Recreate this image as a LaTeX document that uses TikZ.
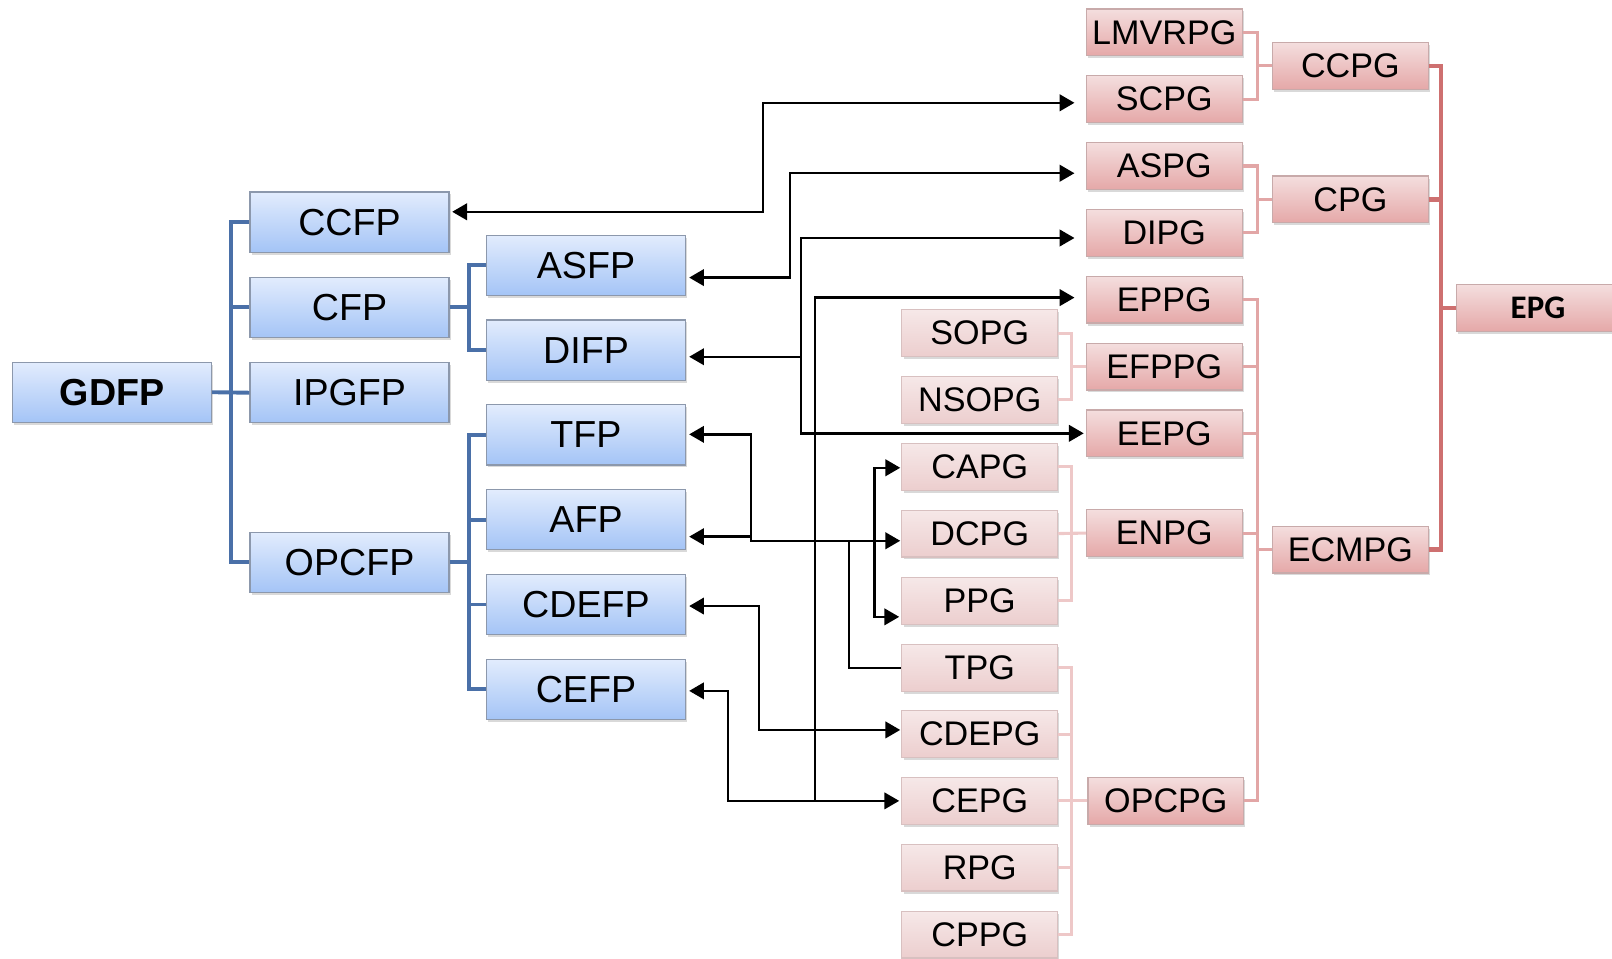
\documentclass[tikz,border=0pt]{standalone}
\usepackage{fontspec}
\setmainfont{Liberation Sans}
\newfontfamily\calib{Carlito}
\usetikzlibrary{calc,shadows,arrows.meta}
\definecolor{bltop}{RGB}{226,236,253}
\definecolor{blbot}{RGB}{164,196,246}
\definecolor{blbrd}{RGB}{140,152,172}
\definecolor{blline}{RGB}{74,112,168}
\definecolor{pAtop}{RGB}{246,232,232}
\definecolor{pAbot}{RGB}{236,206,206}
\definecolor{pAbrd}{RGB}{216,192,192}
\definecolor{pBtop}{RGB}{244,222,222}
\definecolor{pBbot}{RGB}{229,168,168}
\definecolor{pBbrd}{RGB}{200,170,170}
\definecolor{pkA}{RGB}{238,200,200}
\definecolor{pkB}{RGB}{226,166,166}
\definecolor{pkC}{RGB}{206,112,112}
\begin{document}
\begin{tikzpicture}[x=0.5pt,y=-0.5pt,
  >={Triangle[length=7.2pt,width=8pt]},
  box/.style={rectangle, inner sep=0pt, line width=0.6pt,
    drop shadow={shadow xshift=0.8pt, shadow yshift=-1.2pt, opacity=0.3}},
  bbox/.style={box, draw=blbrd, top color=bltop, bottom color=blbot,
    minimum width=96.75pt, minimum height=29.25pt, font=\fontsize{18.3}{20}\selectfont},
  pa/.style={box, draw=pAbrd, top color=pAtop, bottom color=pAbot,
    minimum width=75.75pt, minimum height=22.75pt, font=\fontsize{16.6}{18}\selectfont},
  pb/.style={pa, draw=pBbrd, top color=pBtop, bottom color=pBbot},
  bl/.style={draw=blline, line width=1.9pt},
  pka/.style={draw=pkA, line width=1.5pt},
  pkb/.style={draw=pkB, line width=1.5pt},
  pkc/.style={draw=pkC, line width=2pt},
  arr/.style={draw=black, line width=1.2pt},
  thinarr/.style={draw=black, line width=0.9pt}
]
\path[use as bounding box] (0,0) rectangle (1568,932);
\clip (0,0) rectangle (1568,932);

% ---------- blue nodes ----------
\node[bbox, font=\fontsize{18.3}{20}\selectfont\bfseries] (GDFP) at (109,381.5) {GDFP};
\node[bbox] (CCFP)  at (340,216) {CCFP};
\node[bbox] (CFP)   at (340,299) {CFP};
\node[bbox] (IPGFP) at (340,382) {IPGFP};
\node[bbox] (OPCFP) at (340,547) {OPCFP};
\node[bbox] (ASFP)  at (570,258) {ASFP};
\node[bbox] (DIFP)  at (570,340.5) {DIFP};
\node[bbox] (TFP)   at (570,423) {TFP};
\node[bbox] (AFP)   at (570,505.5) {AFP};
\node[bbox] (CDEFP) at (570,588) {CDEFP};
\node[bbox] (CEFP)  at (570,670.5) {CEFP};

% ---------- pink column 3 ----------
\node[pa] (SOPG)  at (953,324) {SOPG};
\node[pa] (NSOPG) at (953,389) {NSOPG};
\node[pa] (CAPG)  at (953,454) {CAPG};
\node[pa] (DCPG)  at (953,519) {DCPG};
\node[pa] (PPG)   at (953,584.5) {PPG};
\node[pa] (TPG)   at (953,649.5) {TPG};
\node[pa] (CDEPG) at (953,714) {CDEPG};
\node[pa] (CEPG)  at (953,779) {CEPG};
\node[pa] (RPG)   at (953,844) {RPG};
\node[pa] (CPPG)  at (953,909) {CPPG};

% ---------- pink column 4 ----------
\node[pb] (LMVRPG) at (1132.5,31.5) {LMVRPG};
\node[pb] (SCPG)   at (1132.5,96.5) {SCPG};
\node[pb] (ASPG)   at (1132.5,161.5) {ASPG};
\node[pb] (DIPG)   at (1132.5,226.5) {DIPG};
\node[pb] (EPPG)   at (1132.5,291.5) {EPPG};
\node[pb] (EFPPG)  at (1132.5,356.5) {EFPPG};
\node[pb] (EEPG)   at (1132.5,421.5) {EEPG};
\node[pb] (ENPG)   at (1132.5,518.5) {ENPG};
\node[pb] (OPCPG)  at (1134,779) {OPCPG};

% ---------- pink column 5 / 6 ----------
\node[pb] (CCPG)  at (1313.5,64) {CCPG};
\node[pb] (CPG)   at (1313.5,194) {CPG};
\node[pb] (ECMPG) at (1313.5,534.5) {ECMPG};
\node[pb, minimum width=79pt, font=\calib\fontsize{16}{18}\selectfont\bfseries] (EPG) at (1496,299.5) {EPG};

% ---------- trunk x positions ----------
\coordinate (ta) at (225,0);
\coordinate (tb) at (456,0);
\coordinate (tc) at (1042.5,0);
\coordinate (td) at (1223,0);
\coordinate (te) at (1402,0);

% ---------- blue connectors ----------
\draw[bl] (CCFP.west) -- (CCFP.west -| ta) -- (OPCFP.west -| ta) -- (OPCFP.west);
\draw[bl] (CFP.west) -- (CFP.west -| ta);
\draw[bl] (GDFP.east) -- (IPGFP.west);
\draw[bl] (ASFP.west) -- (ASFP.west -| tb) -- (DIFP.west -| tb) -- (DIFP.west);
\draw[bl] (CFP.east) -- (CFP.east -| tb);
\draw[bl] (TFP.west) -- (TFP.west -| tb) -- (CEFP.west -| tb) -- (CEFP.west);
\draw[bl] (AFP.west) -- (AFP.west -| tb);
\draw[bl] (CDEFP.west) -- (CDEFP.west -| tb);
\draw[bl] (OPCFP.east) -- (OPCFP.east -| tb);

% ---------- pink connectors ----------
\draw[pka] (SOPG.east) -- (SOPG.east -| tc) -- (NSOPG.east -| tc) -- (NSOPG.east);
\draw[pka] (EFPPG.west) -- (EFPPG.west -| tc);
\draw[pka] (CAPG.east) -- (CAPG.east -| tc) -- (PPG.east -| tc) -- (PPG.east);
\draw[pka] (DCPG.east) -- (ENPG.west);
\draw[pka] (TPG.east) -- (TPG.east -| tc) -- (CPPG.east -| tc) -- (CPPG.east);
\draw[pka] (CDEPG.east) -- (CDEPG.east -| tc);
\draw[pka] (CEPG.east) -- (OPCPG.west);
\draw[pka] (RPG.east) -- (RPG.east -| tc);

\draw[pkb] (LMVRPG.east) -- (LMVRPG.east -| td) -- (SCPG.east -| td) -- (SCPG.east);
\draw[pkb] (CCPG.west) -- (CCPG.west -| td);
\draw[pkb] (ASPG.east) -- (ASPG.east -| td) -- (DIPG.east -| td) -- (DIPG.east);
\draw[pkb] (CPG.west) -- (CPG.west -| td);
\draw[pkb] (EPPG.east) -- (EPPG.east -| td) -- (OPCPG.east -| td) -- (OPCPG.east);
\draw[pkb] (EFPPG.east) -- (EFPPG.east -| td);
\draw[pkb] (EEPG.east) -- (EEPG.east -| td);
\draw[pkb] (ENPG.east) -- (ENPG.east -| td);
\draw[pkb] (ECMPG.west) -- (ECMPG.west -| td);

\draw[pkc] (CCPG.east) -- (CCPG.east -| te) -- (ECMPG.east -| te) -- (ECMPG.east);
\draw[pkc] (CPG.east) -- (CPG.east -| te);
\draw[pkc] (EPG.west) -- (EPG.west -| te);

% ---------- black arrows ----------
\coordinate (x1) at (742,0);
\coordinate (x2) at (768.5,0);
\coordinate (x3) at (779,0);
\coordinate (x4) at (793,0);
\coordinate (x5) at (708,0);
\coordinate (x6) at (730.5,0);
\coordinate (x7) at (826,0);
\coordinate (x8) at (850.5,0);
\coordinate (x9) at (738.5,0);

\coordinate (pCCFP) at ($(CCFP.east)+(2.5,-10)$);
\coordinate (pSCPG) at ($(SCPG.west)+(-11,3.5)$);
\coordinate (pASFP) at ($(ASFP.east)+(3,12)$);
\coordinate (pASPG) at ($(ASPG.west)+(-11,7)$);
\coordinate (pDIFP) at ($(DIFP.east)+(3,6.5)$);
\coordinate (pDIPG) at ($(DIPG.west)+(-11,5)$);
\coordinate (pEEPG) at ($(EEPG.west)+(-2,0)$);
\coordinate (pEPPG) at ($(EPPG.west)+(-11,-2)$);
\coordinate (pCEPG) at ($(CEPG.west)+(-2,0)$);
\coordinate (pCEFP) at ($(CEFP.east)+(3,1.5)$);
\coordinate (pTFP)  at ($(TFP.east)+(3,-0.5)$);
\coordinate (pAFP)  at ($(AFP.east)+(3,16.5)$);
\coordinate (pDCPG) at ($(DCPG.west)+(-1,7)$);
\coordinate (pCAPG) at ($(CAPG.west)+(-1,1)$);
\coordinate (pPPG)  at ($(PPG.west)+(-2,15.5)$);
\coordinate (pCDEFP) at ($(CDEFP.east)+(3,1.5)$);
\coordinate (pCDEPG) at ($(CDEPG.west)+(-1,-4)$);

\draw[arr,<->] (pCCFP) -- (pCCFP -| x1) -- (pSCPG -| x1) -- (pSCPG);
\draw[arr,<->] (pASFP) -- (pASFP -| x2) -- (pASPG -| x2) -- (pASPG);
\draw[arr,<->] (pDIPG) -- (pDIPG -| x3) -- (pEEPG -| x3) -- (pEEPG);
\draw[arr,->] (pDIFP -| x3) -- (pDIFP);
\draw[arr,<->] (pCEFP) -- (pCEFP -| x5) -- (pCEPG -| x5) -- (pCEPG);
\draw[arr,->] (pCEPG -| x4) -- (pEPPG -| x4) -- (pEPPG);
\draw[arr,<->] (pTFP) -- (pTFP -| x6) -- (pDCPG -| x6) -- (pDCPG);
\draw[arr,->] (pAFP -| x6) -- (pAFP);
\draw[thinarr] (pDCPG -| x7) -- (TPG.west -| x7) -- (TPG.west);
\draw[arr,<->] (pCAPG) -- (pCAPG -| x8) -- (pPPG -| x8) -- (pPPG);
\draw[arr,<->] (pCDEFP) -- (pCDEFP -| x9) -- (pCDEPG -| x9) -- (pCDEPG);
\end{tikzpicture}
\end{document}
